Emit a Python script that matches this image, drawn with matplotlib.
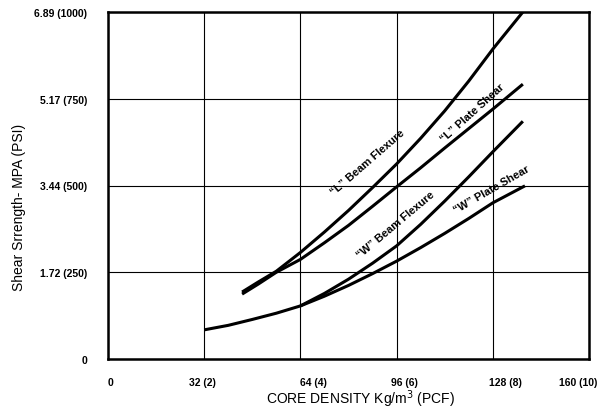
import matplotlib
matplotlib.use("Agg")
import matplotlib.pyplot as plt
import matplotlib.transforms as mtransforms

# Data (x: core density kg/m^3, y: shear strength psi)
l_beam_x = [44.6, 50, 56, 64, 72, 80, 88, 96, 104, 112, 120, 128, 138]
l_beam_y = [193, 222, 253, 307, 366, 428, 494, 562, 636, 715, 801, 893, 1000]

l_plate_x = [44.6, 50, 56, 64, 72, 80, 88, 96, 104, 112, 120, 128, 138]
l_plate_y = [187, 216, 250, 287, 335, 385, 440, 496, 551, 608, 664, 720, 792]

w_beam_x = [64, 72, 80, 88, 96, 104, 112, 120, 128, 138]
w_beam_y = [153, 189, 230, 276, 326, 388, 455, 525, 597, 685]

w_plate_x = [32, 40, 48, 56, 64, 72, 80, 88, 96, 104, 112, 120, 128, 138.7]
w_plate_y = [84, 97, 114, 132, 153, 181, 212, 246, 282, 321, 362, 405, 450, 499]

x_ticks = [0, 32, 64, 96, 128, 160]
x_tick_labels = ["0", "32 (2)", "64 (4)", "96 (6)", "128 (8)", "160 (10)"]
y_ticks = [0, 250, 500, 750, 1000]
y_tick_labels = ["0", "1.72 (250)", "3.44 (500)", "5.17 (750)", "6.89 (1000)"]

labels = ["\u201cL\u201d Beam Flexure", "\u201cL\u201d Plate Shear",
          "\u201cW\u201d Beam Flexure", "\u201cW\u201d Plate Shear"]
label_x = [86.5, 121.1, 95.8, 127.7]
label_y = [568, 712, 389, 490]
label_rot = [41, 42, 40, 30]

plt.rcParams['font.family'] = ['Liberation Sans', 'DejaVu Sans']

fig = plt.figure(figsize=(6.12, 4.10), dpi=100)
ax = fig.add_axes([108/612, 50/410, 481/612, 347/410])

for xs, ys in [(l_beam_x, l_beam_y), (l_plate_x, l_plate_y),
               (w_beam_x, w_beam_y), (w_plate_x, w_plate_y)]:
    ax.plot(xs, ys, color='black', lw=2.2, solid_capstyle='butt',
            solid_joinstyle='round', zorder=3)

ax.set_xlim(0, 160)
ax.set_ylim(0, 1000)
ax.set_xticks(x_ticks)
ax.set_xticklabels(x_tick_labels, fontsize=7.5, fontweight='bold')
ax.set_yticks(y_ticks)
ax.set_yticklabels(y_tick_labels, fontsize=7.5, fontweight='bold')
ax.tick_params(length=0)
ax.tick_params(axis='x', pad=13)
ax.tick_params(axis='y', pad=15)
ax.grid(True, color='black', lw=0.8)
for s in ax.spines.values():
    s.set_linewidth(1.8)

# small horizontal shifts of x tick labels as in the original print
x_label_shift_px = [2, -2, 13, 8, 13, -11]
for lab, dx in zip(ax.get_xticklabels(), x_label_shift_px):
    lab.set_transform(lab.get_transform() +
                      mtransforms.ScaledTranslation(dx / 100, 0, fig.dpi_scale_trans))

for t, x, y, r in zip(labels, label_x, label_y, label_rot):
    ax.text(x, y, t, rotation=r, ha='center', va='center', fontsize=8,
            fontweight='bold', rotation_mode='anchor', zorder=4)

ax.set_xlabel("CORE DENSITY Kg/m$^{3}$ (PCF)", fontsize=10)
ax.xaxis.set_label_coords(0.525, -0.083)
ax.set_ylabel("Shear Srrength- MPA (PSI)", fontsize=10)
ax.yaxis.set_label_coords(-0.17, 0.44)

fig.savefig("out.png", dpi=100)
